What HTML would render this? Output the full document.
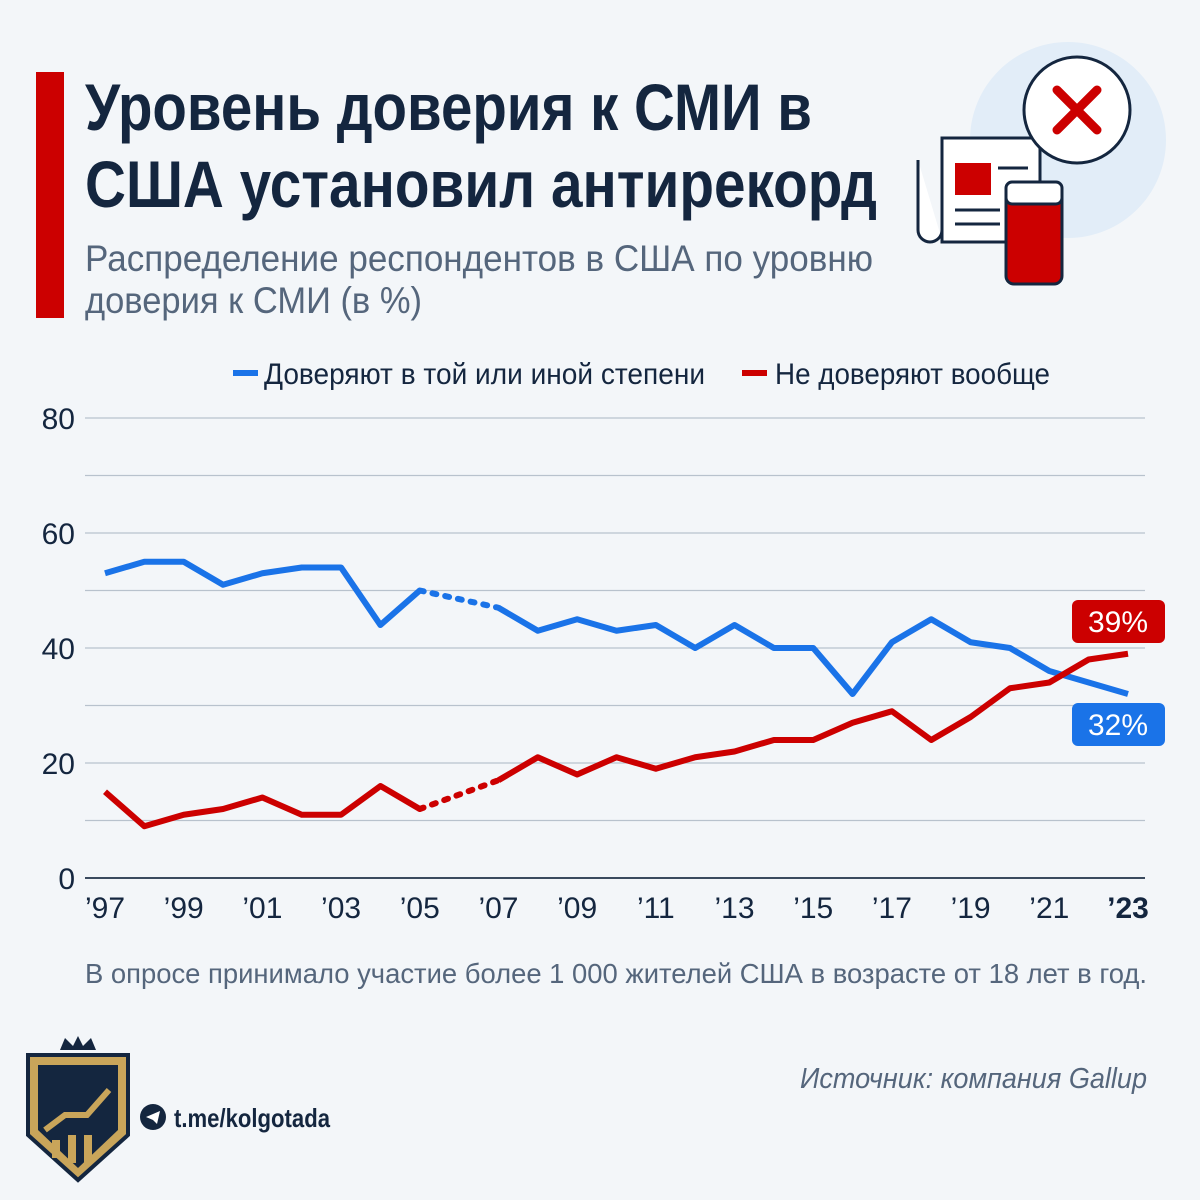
<!DOCTYPE html>
<html><head><meta charset="utf-8"><style>
body{margin:0;background:#f3f6f9;}
svg{display:block;font-family:"Liberation Sans",sans-serif;}
</style></head><body>
<svg width="1200" height="1200" viewBox="0 0 1200 1200">
<rect width="1200" height="1200" fill="#f3f6f9"/>
<rect x="36" y="72" width="28" height="246" fill="#cc0000"/>
<text x="85" y="130" font-size="66" font-weight="bold" fill="#14263f" textLength="727" lengthAdjust="spacingAndGlyphs">Уровень доверия к СМИ в</text>
<text x="85" y="207" font-size="66" font-weight="bold" fill="#14263f" textLength="792" lengthAdjust="spacingAndGlyphs">США установил антирекорд</text>
<text x="85" y="271" font-size="37" fill="#55667c" textLength="788" lengthAdjust="spacingAndGlyphs">Распределение респондентов в США по уровню</text>
<text x="85" y="313" font-size="37" fill="#55667c" textLength="337" lengthAdjust="spacingAndGlyphs">доверия к СМИ (в %)</text>
<g>
<circle cx="1068" cy="140" r="98" fill="#e2edf8"/>
<path d="M918 160 v70 a12 12 0 0 0 24 0 v-90 h96 v100 h-96" fill="#fff" stroke="#14263f" stroke-width="3"/>
<rect x="942" y="138" width="98" height="104" fill="#fff" stroke="#14263f" stroke-width="3"/>
<rect x="955" y="163" width="36" height="32" fill="#cc0000"/>
<line x1="998" y1="168" x2="1028" y2="168" stroke="#14263f" stroke-width="3"/>
<line x1="955" y1="210" x2="1000" y2="210" stroke="#14263f" stroke-width="3"/>
<line x1="955" y1="224" x2="1000" y2="224" stroke="#14263f" stroke-width="3"/>
<rect x="1006" y="182" width="56" height="102" rx="8" fill="#cc0000" stroke="#14263f" stroke-width="3"/>
<rect x="1006" y="182" width="56" height="22" rx="6" fill="#fff" stroke="#14263f" stroke-width="3"/>
<circle cx="1077" cy="110" r="53" fill="#fff" stroke="#14263f" stroke-width="3"/>
<path d="M1057 90 L1097 130 M1097 90 L1057 130" stroke="#cc0000" stroke-width="9" stroke-linecap="round"/>
</g>
<g>
<line x1="233" y1="373" x2="258" y2="373" stroke="#1a73e8" stroke-width="6"/>
<text x="264" y="384" font-size="30" fill="#14263f" textLength="441" lengthAdjust="spacingAndGlyphs">Доверяют в той или иной степени</text>
<line x1="742" y1="373" x2="767" y2="373" stroke="#cc0000" stroke-width="6"/>
<text x="775" y="384" font-size="30" fill="#14263f" textLength="275" lengthAdjust="spacingAndGlyphs">Не доверяют вообще</text>
</g>
<g id="chart"></g>
<text x="85" y="983" font-size="28" fill="#55667c" textLength="1062" lengthAdjust="spacingAndGlyphs">В опросе принимало участие более 1 000 жителей США в возрасте от 18 лет в год.</text>
<text x="1147" y="1088" font-size="29" font-style="italic" fill="#55667c" text-anchor="end" textLength="347" lengthAdjust="spacingAndGlyphs">Источник: компания Gallup</text>
<g>
<circle cx="153" cy="1117" r="13" fill="#14263f"/>
<path d="M146 1117 l14 -6 l-3 13 l-4 -4 z" fill="#fff"/>
<text x="174" y="1127" font-size="26" font-weight="bold" fill="#14263f" textLength="156" lengthAdjust="spacingAndGlyphs">t.me/kolgotada</text>
</g>
<g>
<path d="M60 1050 l5 -12 l8 8 l5 -10 l5 10 l8 -8 l5 12 z" fill="#14263f"/>
<path d="M28 1055 h100 v80 l-50 45 l-50 -45 z" fill="#c9a55a" stroke="#14263f" stroke-width="4"/>
<path d="M38 1065 h80 v65 l-40 38 l-40 -38 z" fill="#14263f"/>
<path d="M45 1130 l20 -15 h22 l22 -25" stroke="#c9a55a" stroke-width="6" fill="none"/>
<rect x="52" y="1140" width="8" height="18" fill="#c9a55a"/><rect x="68" y="1135" width="8" height="28" fill="#c9a55a"/><rect x="84" y="1135" width="8" height="28" fill="#c9a55a"/>
</g>
</svg>
<script>
const years=[1997,1998,1999,2000,2001,2002,2003,2004,2005,2007,2008,2009,2010,2011,2012,2013,2014,2015,2016,2017,2018,2019,2020,2021,2022,2023];
const trustValues=[53,55,55,51,53,54,54,44,50,47,43,45,43,44,40,44,40,40,32,41,45,41,40,36,34,32];
const distrustValues=[15,9,11,12,14,11,11,16,12,17,21,18,21,19,21,22,24,24,27,29,24,28,33,34,38,39];
const yTicks=[0,20,40,60,80];
const xTickLabels=["’97","’99","’01","’03","’05","’07","’09","’11","’13","’15","’17","’19","’21","’23"];
const xTickYears=[1997,1999,2001,2003,2005,2007,2009,2011,2013,2015,2017,2019,2021,2023];
const NS="http://www.w3.org/2000/svg";
const g=document.getElementById('chart');
const x=y=>105+(y-1997)*(1128-105)/26;
const yS=v=>878-v*5.75;
function mk(t,a){const e=document.createElementNS(NS,t);for(const k in a)e.setAttribute(k,a[k]);g.appendChild(e);return e;}
for(let v=0;v<=80;v+=10){const l=mk('line',{x1:85,x2:1145,y1:yS(v),y2:yS(v),stroke:v===0?'#3a4a5e':'#b8c2cd','stroke-width':v===0?2:1.2});

}
yTicks.forEach(v=>{const t=mk('text',{x:75,y:yS(v)+11,'font-size':30,fill:'#14263f','text-anchor':'end'});t.textContent=v;

});
xTickLabels.forEach((s,i)=>{const t=mk('text',{x:x(xTickYears[i]),y:918,'font-size':30,fill:'#14263f','text-anchor':'middle','font-weight':i===xTickLabels.length-1?'bold':'normal'});t.textContent=s;

});
function series(vals,color,name){
const gap=years.indexOf(2005);
const p1=years.slice(0,gap+1).map((yr,i)=>x(yr)+','+yS(vals[i])).join(' ');
const p2=years.slice(gap+1).map((yr,i)=>x(yr)+','+yS(vals[gap+1+i])).join(' ');
const a=mk('polyline',{points:p1,fill:'none',stroke:color,'stroke-width':6,'stroke-linejoin':'round'});


const b=mk('polyline',{points:p2,fill:'none',stroke:color,'stroke-width':6,'stroke-linejoin':'round'});


const d=mk('line',{x1:x(2005),y1:yS(vals[gap]),x2:x(2007),y2:yS(vals[gap+1]),stroke:color,'stroke-width':6,'stroke-dasharray':'4 9','stroke-linecap':'round'});

}
series(trustValues,'#1a73e8','trust');
series(distrustValues,'#cc0000','distrust');
function badge(v,color,cy,name){const r=mk('rect',{x:1072,y:cy-21,width:93,height:43,rx:6,fill:color});


const t=mk('text',{x:1118,y:cy+11,'font-size':30,fill:'#fff','text-anchor':'middle'});t.textContent=v+'%';

}
badge(distrustValues[distrustValues.length-1],'#cc0000',621,'distrust-end-label');
badge(trustValues[trustValues.length-1],'#1a73e8',724,'trust-end-label');
</script>
</body></html>
